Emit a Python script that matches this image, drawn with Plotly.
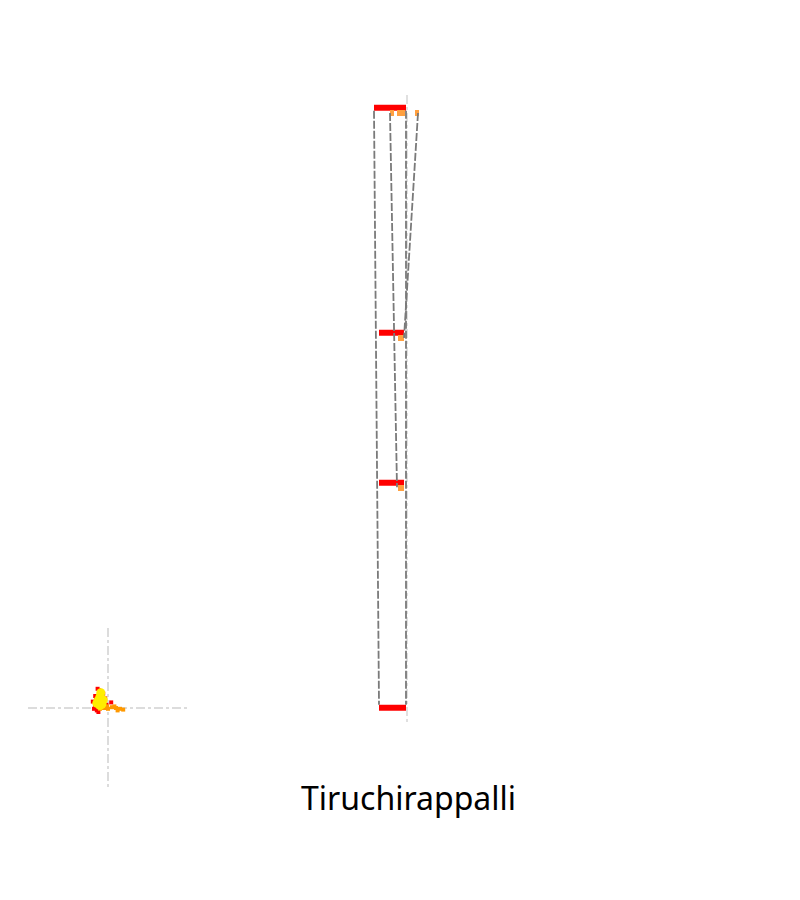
import plotly.graph_objects as go

W, H = 800, 900

# ---- data ----
levels = [8, 5, 3, 0]
red_base = [-3.3, -2.8, -2.8, -2.8]
red_len = [3.2, 2.5, 2.5, 2.7]

orange_levels = [8, 8, 8, 5, 3]
orange_base = [-1.7, -1.0, 0.8, -0.9, -0.9]
orange_len = [0.4, 0.8, 0.4, 0.6, 0.6]

link_x = [-3.3, -2.8, None, -0.1, -0.1, None, -1.7, -1.0, None, 1.1, -0.3]
link_y = [7.95, 0.03, None, 7.95, 0.03, None, 7.92, 2.93, None, 7.92, 4.92]

# inset scatter cloud (relative units)
yel_x = [-0.125, -0.10, -0.14, -0.075, -0.09, -0.11, -0.06, -0.10]
yel_y = [0.09, 0.14, 0.06, 0.05, 0.19, 0.11, 0.10, 0.03]
red_x = [-0.15, -0.19, -0.16, -0.14, -0.06, -0.035, -0.11, -0.175, -0.02, 0.04, -0.13, -0.08, -0.12, -0.16]
red_y = [0.13, 0.08, 0.02, -0.03, 0.18, 0.12, 0.22, -0.01, 0.04, 0.07, 0.24, 0.20, -0.05, 0.15]
org_x = [-0.01, 0.05, 0.10, 0.15, 0.19, 0.0, -0.10, -0.05, 0.12, 0.08]
org_y = [0.02, 0.01, 0.0, -0.01, -0.02, -0.01, -0.01, 0.0, -0.03, 0.02]

title_text = "Tiruchirappalli"

fig = go.Figure()

fig.add_trace(go.Bar(
    y=levels, x=red_len, base=red_base, orientation="h",
    width=0.08, offset=-0.05, marker=dict(color="#ff0000", line=dict(width=0)),
    xaxis="x", yaxis="y"))
fig.add_trace(go.Bar(
    y=orange_levels, x=orange_len, base=orange_base, orientation="h",
    width=0.08, offset=-0.12, marker=dict(color="#ffa040", line=dict(width=0)),
    xaxis="x", yaxis="y"))
fig.add_trace(go.Scatter(
    x=link_x, y=link_y, mode="lines",
    line=dict(color="#7a7a7a", width=1.8, dash="8px,2px"),
    xaxis="x", yaxis="y"))

fig.add_trace(go.Scatter(x=red_x, y=red_y, mode="markers",
                         marker=dict(color="#ff0000", size=4, symbol="square"),
                         xaxis="x2", yaxis="y2"))
fig.add_trace(go.Scatter(x=org_x, y=org_y, mode="markers",
                         marker=dict(color="#ff9900", size=4, symbol="square"),
                         xaxis="x2", yaxis="y2"))
fig.add_trace(go.Scatter(x=yel_x, y=yel_y, mode="markers",
                         marker=dict(color="#ffee00", size=9),
                         xaxis="x2", yaxis="y2"))

axis_common = dict(showticklabels=False, ticks="", zeroline=False, showline=False)

fig.update_layout(
    width=W, height=H,
    margin=dict(l=0, r=0, t=0, b=0),
    paper_bgcolor="white", plot_bgcolor="white",
    showlegend=False, barmode="overlay",
    xaxis=dict(domain=[28 / W, 788 / W], range=[-37.9, 38.1], tickvals=[0],
               showgrid=True, gridcolor="#e0e0e0", gridwidth=1.5, griddash="dashdot",
               **axis_common),
    yaxis=dict(domain=[1 - 722 / H, 1 - 95 / H], range=[-0.2, 8.16],
               showgrid=False, **axis_common),
    xaxis2=dict(domain=[28 / W, 188 / W], range=[-1, 1], tickvals=[0],
                showgrid=True, gridcolor="#dcdcdc", gridwidth=1.5, griddash="dashdot",
                anchor="y2", **axis_common),
    yaxis2=dict(domain=[1 - 788 / H, 1 - 628 / H], range=[-1, 1], tickvals=[0],
                showgrid=True, gridcolor="#dcdcdc", gridwidth=1.5, griddash="dashdot",
                anchor="x2", **axis_common),
    annotations=[dict(text=title_text, xref="paper", yref="paper",
                      x=408 / W, y=1 - 797 / H, xanchor="center", yanchor="middle",
                      showarrow=False,
                      font=dict(family="Noto Sans", size=32, color="black"))],
)

fig.write_html("out.html")
